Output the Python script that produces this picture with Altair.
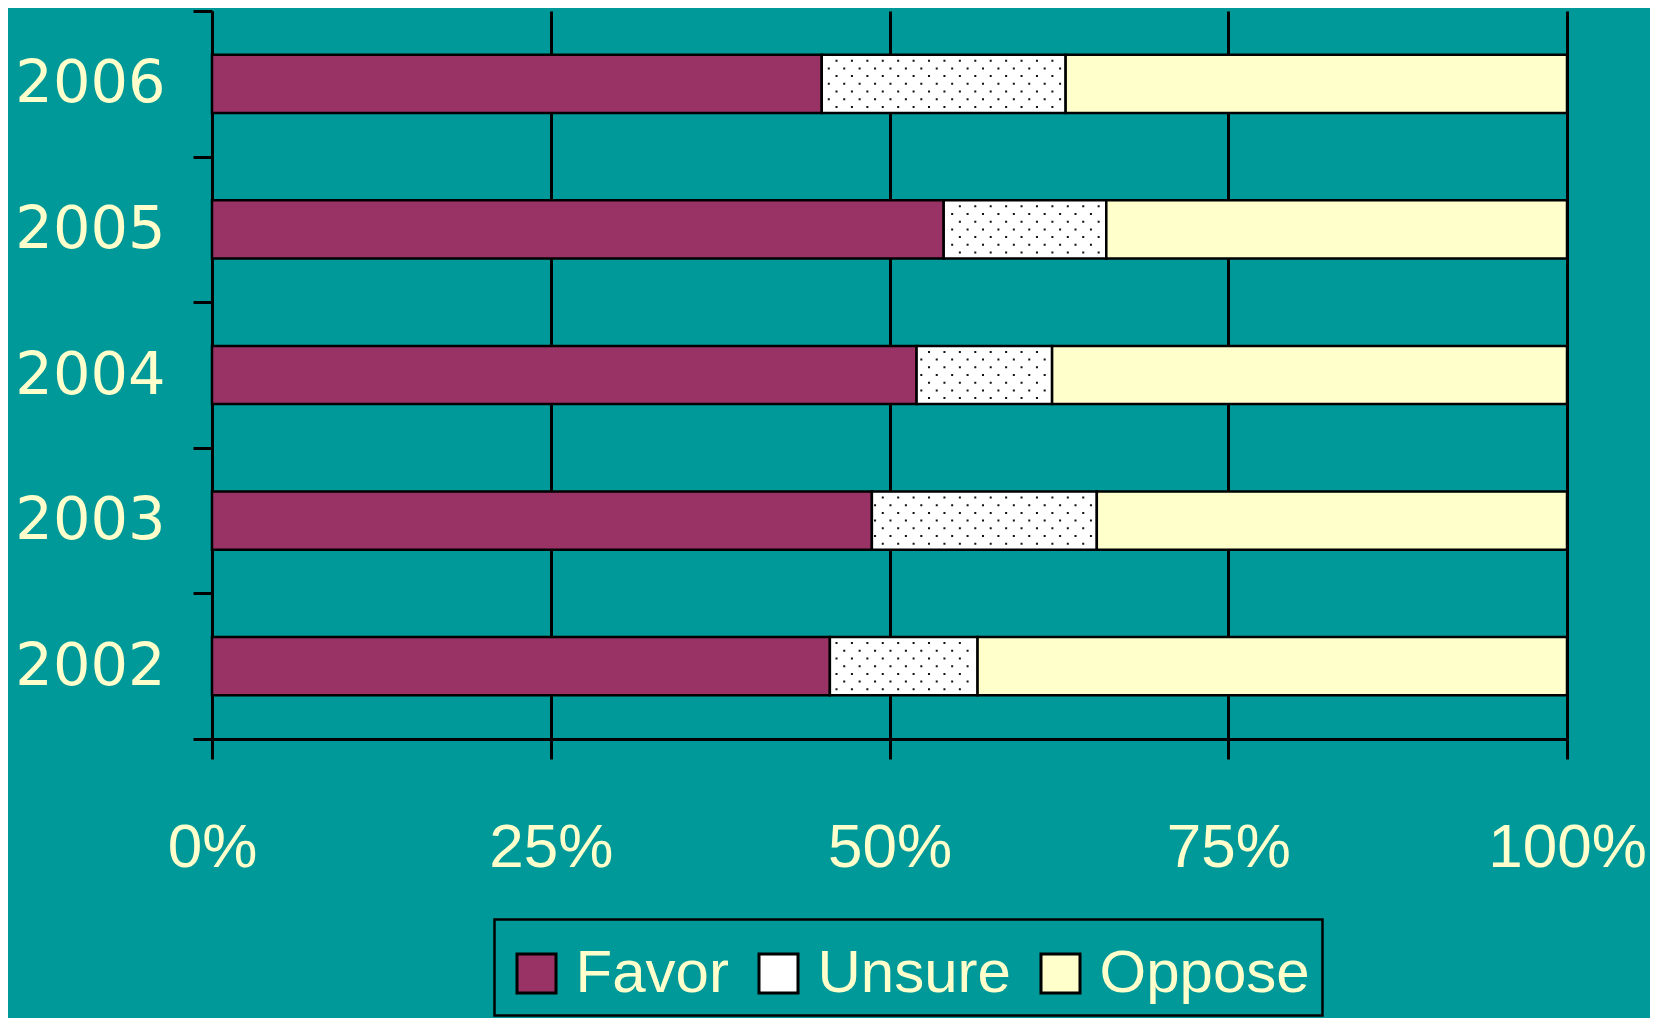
import altair as alt
import pandas as pd

years = ["2006", "2005", "2004", "2003", "2002"]
favor = [45.0, 54.0, 52.0, 48.7, 45.6]
unsure = [18.0, 12.0, 10.0, 16.6, 10.9]
oppose = [37.0, 34.0, 38.0, 34.7, 43.5]
categories = ["Favor", "Unsure", "Oppose"]
colors = ["#993366", "#FFFFFF", "#FFFFCC"]
x_ticks = [0, 0.25, 0.5, 0.75, 1.0]

rows = []
for i, y in enumerate(years):
    for k, (cat, vals) in enumerate(zip(categories, [favor, unsure, oppose])):
        rows.append({"year": y, "response": cat, "value": vals[i], "order": k})
df = pd.DataFrame(rows)

# extent of each "Unsure" segment (fraction of the row total) for the dot texture
seg = pd.DataFrame({
    "year": years,
    "start": [f / (f + u + o) for f, u, o in zip(favor, unsure, oppose)],
    "end": [(f + u) / (f + u + o) for f, u, o in zip(favor, unsure, oppose)],
})

BG = "#009999"
TXT = "#FFFFCC"
FONT_Y = "DejaVu Sans"
FONT = "Liberation Sans"

y_axis = alt.Axis(
    tickBand="extent",
    domainColor="black",
    domainWidth=3,
    tickColor="black",
    tickWidth=3,
    tickSize=19,
    grid=False,
    labelFont=FONT_Y,
    labelFontSize=59,
    labelColor=TXT,
    labelPadding=28,
    labelBaseline="middle",
)
y_scale = alt.Scale(paddingInner=0, paddingOuter=0)

x_axis = alt.Axis(
    values=x_ticks,
    format=".0%",
    grid=True,
    gridColor="black",
    gridWidth=3,
    gridOpacity=1,
    domainColor="black",
    domainWidth=3,
    tickColor="black",
    tickWidth=3,
    tickSize=20,
    labelFont=FONT,
    labelFontSize=62,
    labelColor=TXT,
    labelPadding=88,
    labelBaseline="middle",
    labelFlush=False,
    labelOverlap=False,
)
x_scale = alt.Scale(domain=[0, 1], nice=False)

bars = alt.Chart(df).mark_bar(
    stroke="black", strokeWidth=2.5, height={"band": 0.4}
).encode(
    y=alt.Y("year:N", sort=years, title=None, scale=y_scale, axis=y_axis),
    x=alt.X("value:Q", stack="normalize", title=None, scale=x_scale, axis=x_axis),
    color=alt.Color(
        "response:N",
        sort=categories,
        scale=alt.Scale(domain=categories, range=colors),
        legend=alt.Legend(
            orient="none",
            legendX=282.5,
            legendY=908.5,
            direction="horizontal",
            title=" ",
            titleFontSize=12,
            titlePadding=0,
            symbolType="square",
            symbolSize=1521,
            symbolStrokeColor="black",
            symbolStrokeWidth=3,
            symbolOpacity=1,
            labelFont=FONT,
            labelFontSize=60,
            labelColor=TXT,
            labelLimit=400,
            labelOffset=9,
            columnPadding=19,
            padding=12,
            strokeColor="black",
            fillColor=BG,
        ),
    ),
    order=alt.Order("order:Q", sort="ascending"),
)

# dotted texture: columns of tiny dots, alternating rows (custom symbol paths)
def dot(yc):
    return "M-0.042,%.4fh0.084v0.084h-0.084z" % (yc - 0.042)

path_even = "".join(dot(v) for v in [-0.6417, 0.0, 0.6417])
path_odd = "".join(dot(v) for v in [-0.9625, -0.3208, 0.3208, 0.9625])
STEP = 0.00569

dots = alt.Chart(seg).transform_calculate(
    k=f"sequence(ceil(datum.start / {STEP} + 0.4), floor(datum.end / {STEP} - 0.4) + 1)"
).transform_flatten(["k"]).transform_calculate(
    xd=f"datum.k * {STEP}",
    parity="datum.k % 2 == 0 ? 'a' : 'b'",
).mark_point(filled=True, color="#111111", opacity=1, size=2304).encode(
    y=alt.Y("year:N", sort=years, title=None, scale=y_scale, axis=y_axis),
    x=alt.X("xd:Q", title=None, scale=x_scale, axis=x_axis),
    shape=alt.Shape(
        "parity:N",
        scale=alt.Scale(domain=["a", "b"], range=[path_even, path_odd]),
        legend=None,
    ),
)

chart = alt.layer(bars, dots).properties(
    width=1355,
    height=728,
    background=BG,
    padding={"left": 204, "top": 3, "right": 83, "bottom": 279},
    autosize=alt.AutoSizeParams(type="none"),
).configure_view(stroke=None).configure_legend(strokeWidth=2.5)

chart.save("out.html", embed_options={"renderer": "svg", "actions": False})
